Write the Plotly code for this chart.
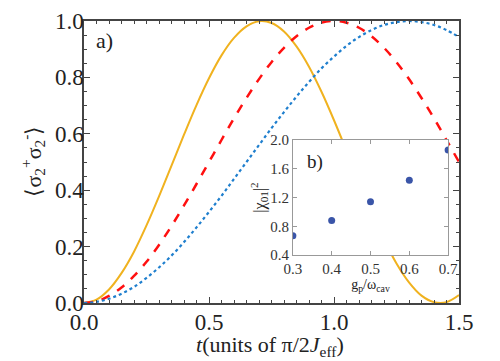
import plotly.graph_objects as go

# tiempo en unidades de pi/2J_eff
t = [0.00, 0.05, 0.10, 0.15, 0.20, 0.25, 0.30, 0.35, 0.40, 0.45, 0.50,
     0.55, 0.60, 0.65, 0.70, 0.75, 0.80, 0.85, 0.90, 0.95, 1.00,
     1.05, 1.10, 1.15, 1.20, 1.25, 1.30, 1.35, 1.40, 1.45, 1.50]

pob_naranja = [0.000, 0.012, 0.048, 0.106, 0.182, 0.275, 0.378, 0.487, 0.597, 0.702, 0.797,
               0.878, 0.940, 0.981, 0.999, 0.993, 0.963, 0.910, 0.838, 0.749, 0.648,
               0.540, 0.430, 0.324, 0.225, 0.140, 0.073, 0.026, 0.003, 0.003, 0.028]
pob_roja = [0.000, 0.006, 0.025, 0.055, 0.096, 0.146, 0.206, 0.273, 0.346, 0.422, 0.500,
            0.578, 0.655, 0.727, 0.794, 0.854, 0.905, 0.946, 0.976, 0.994, 1.000,
            0.994, 0.976, 0.946, 0.905, 0.854, 0.794, 0.727, 0.655, 0.578, 0.500]
pob_azul = [0.000, 0.004, 0.015, 0.033, 0.057, 0.089, 0.126, 0.168, 0.216, 0.268, 0.323,
            0.380, 0.440, 0.500, 0.560, 0.620, 0.677, 0.732, 0.784, 0.832, 0.874,
            0.912, 0.943, 0.968, 0.986, 0.996, 1.000, 0.996, 0.986, 0.968, 0.943]

# inset b)
gp = [0.3, 0.4, 0.5, 0.6, 0.7]
chi2 = [0.67, 0.88, 1.14, 1.44, 1.86]

fuente = "Liberation Serif"

fig = go.Figure()
fig.add_trace(go.Scatter(x=t, y=pob_naranja, mode='lines', line_shape='spline',
                         line=dict(color='#f0b21f', width=2)))
fig.add_trace(go.Scatter(x=t, y=pob_roja, mode='lines', line_shape='spline',
                         line=dict(color='#ff1010', width=2.5, dash='dash')))
fig.add_trace(go.Scatter(x=t, y=pob_azul, mode='lines', line_shape='spline',
                         line=dict(color='#1f7fce', width=2.2, dash='dot')))
fig.add_trace(go.Scatter(x=gp, y=chi2, mode='markers', xaxis='x2', yaxis='y2',
                         marker=dict(color='#3a55a8', size=7)))

ejes = dict(showgrid=False, zeroline=False, showline=True, mirror='ticks',
            linecolor='#444', linewidth=1.5, ticks='inside', tickcolor='#444',
            ticklen=6, automargin=False,
            tickfont=dict(family=fuente, size=23, color='#222'))

ejes_inset = dict(showgrid=False, zeroline=False, showline=True, mirror='ticks',
                  linecolor='#999', linewidth=1, ticks='inside', tickcolor='#999',
                  ticklen=4, automargin=False, tickformat='.1f',
                  tickfont=dict(family=fuente, size=15, color='#333'))

# la pagina tiene ~8px de margen propio, se compensa aqui
fig.update_layout(
    width=500, height=361, showlegend=False,
    plot_bgcolor='white', paper_bgcolor='white',
    margin=dict(l=76, r=49, t=13, b=66),
    font=dict(family=fuente, color='#222'),
    xaxis=dict(ejes, range=[0, 1.5], dtick=0.5, tickformat='.1f', ticklabelstandoff=-2,
               minor=dict(dtick=0.05, ticks='inside', ticklen=3, tickcolor='#444')),
    yaxis=dict(ejes, range=[0, 1.0], dtick=0.2, tickformat='.1f', ticklabelstandoff=-6,
               minor=dict(dtick=0.05, ticks='inside', ticklen=3, tickcolor='#444')),
    xaxis2=dict(ejes_inset, domain=[0.557, 0.971], anchor='y2', range=[0.3, 0.7], dtick=0.1,
                title=dict(text='g<sub>p</sub>/ω<sub>cav</sub>',
                           font=dict(family=fuente, size=14), standoff=0)),
    yaxis2=dict(ejes_inset, domain=[0.170, 0.578], anchor='x2', range=[0.4, 2.0], dtick=0.4,
                title=dict(text='|χ<sub>01</sub>|<sup>2</sup>',
                           font=dict(family=fuente, size=16), standoff=0)),
    shapes=[dict(type='rect', xref='x2 domain', yref='y2 domain', x0=0, x1=1, y0=0, y1=1,
                 fillcolor='white', line=dict(width=0), layer='below')],
    annotations=[
        dict(x=0.495, y=-0.152, xref='paper', yref='paper', showarrow=False,
             text='<i>t</i>(units of π/2<i>J</i><sub>eff</sub>)',
             font=dict(family=fuente, size=22), yanchor='middle'),
        dict(x=-0.136, y=0.505, xref='paper', yref='paper', showarrow=False, textangle=-90,
             text='⟨σ<sub>2</sub><sup>+</sup>σ<sub>2</sub><sup>-</sup>⟩',
             font=dict(family=fuente, size=22), xanchor='center', yanchor='middle'),
        dict(x=0.04, y=0.93, xref='x', yref='y', text='a)', showarrow=False,
             font=dict(family=fuente, size=22), xanchor='left'),
        dict(x=0.33, y=1.7, xref='x2', yref='y2', text='b)', showarrow=False,
             font=dict(family=fuente, size=19), xanchor='left'),
    ],
)

fig.write_html("out.html")
